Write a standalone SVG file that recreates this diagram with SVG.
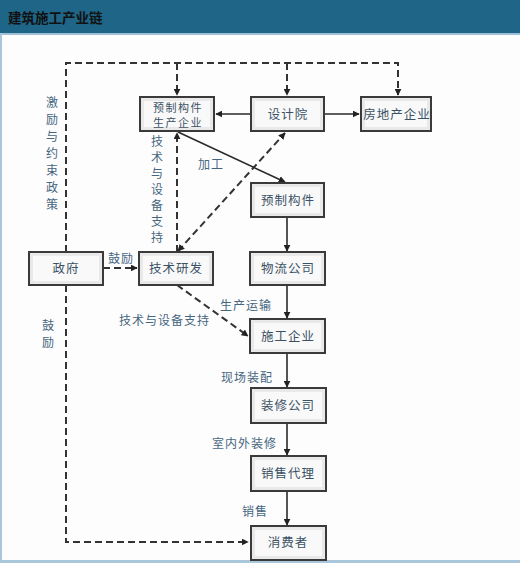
<svg xmlns="http://www.w3.org/2000/svg" width="520" height="563" viewBox="0 0 520 563">
<defs>
<style>
.box{fill:#e9e9e9;stroke:#3a3a3a;stroke-width:2}
.inner{fill:#f9f9f9;stroke:none}
.nt{font-family:"Noto Sans CJK SC","Noto Sans",sans-serif;font-size:12.5px;fill:#3b5266;text-anchor:middle;letter-spacing:1px}
.nt2{font-family:"Noto Sans CJK SC","Noto Sans",sans-serif;font-size:11px;fill:#3b5266;text-anchor:middle;letter-spacing:1.5px}
.lb{font-family:"Noto Sans CJK SC","Noto Sans",sans-serif;font-size:12px;fill:#46667f;letter-spacing:1px}
.vl{font-family:"Noto Sans CJK SC","Noto Sans",sans-serif;font-size:12px;fill:#46667f;text-anchor:middle}
.solid{fill:none;stroke:#2a2a2a;stroke-width:1.6}
.dash{fill:none;stroke:#333;stroke-width:2;stroke-dasharray:7 4}
</style>
<marker id="ah" viewBox="0 0 10 10" refX="9" refY="5" markerWidth="7" markerHeight="7" markerUnits="userSpaceOnUse" orient="auto-start-reverse">
<path d="M0,0 L10,5 L0,10 z" fill="#222"/>
</marker>
</defs>
<rect x="0" y="0" width="520" height="563" fill="#fdfdfd"/>
<rect x="0" y="0" width="520" height="33" fill="#1e6587"/>
<rect x="0" y="33" width="520" height="2" fill="#9fc0d6"/>
<rect x="0" y="33" width="2" height="530" fill="#a9c6da"/>
<rect x="0" y="560" width="520" height="3" fill="#a9c6da"/>
<text x="8" y="23" font-family="Noto Sans CJK SC,sans-serif" font-size="13.5" font-weight="bold" fill="#111">建筑施工产业链</text>

<g id="connectors">
<path class="dash" d="M177,63 V95" marker-end="url(#ah)"/>
<path class="dash" d="M66,252 V63 H398 V95" marker-end="url(#ah)"/>
<path class="dash" d="M287,63 V95" marker-end="url(#ah)"/>
<path class="dash" d="M66,285 V542 H248" marker-end="url(#ah)"/>
<path class="dash" d="M177,252 V133" marker-end="url(#ah)"/>
<path class="dash" d="M178,251 L285,133" marker-start="url(#ah)" marker-end="url(#ah)"/>
<path class="dash" d="M103,268 H137" marker-end="url(#ah)"/>
<path class="dash" d="M177,285 L248,336" marker-end="url(#ah)"/>
<path class="solid" d="M251,114 H216" marker-end="url(#ah)"/>
<path class="solid" d="M324,114 H359" marker-end="url(#ah)"/>
<path class="solid" d="M178,132 L285,182" marker-end="url(#ah)"/>
<path class="solid" d="M287,217 V251" marker-end="url(#ah)"/>
<path class="solid" d="M287,285 V318" marker-end="url(#ah)"/>
<path class="solid" d="M287,353 V387" marker-end="url(#ah)"/>
<path class="solid" d="M287,423 V455" marker-end="url(#ah)"/>
<path class="solid" d="M287,491 V525" marker-end="url(#ah)"/>
<text class="lb" x="198" y="169">加工</text>
<text class="lb" x="108" y="263">鼓励</text>
<text class="lb" x="220" y="310">生产运输</text>
<text class="lb" x="119" y="325">技术与设备支持</text>
<text class="lb" x="221" y="382">现场装配</text>
<text class="lb" x="212" y="448">室内外装修</text>
<text class="lb" x="242" y="516">销售</text>
<g class="vl">
<text x="52" y="107">激</text><text x="52" y="124">励</text><text x="52" y="141">与</text><text x="52" y="158">约</text><text x="52" y="175">束</text><text x="52" y="192">政</text><text x="52" y="209">策</text>
<text x="157" y="146">技</text><text x="157" y="162">术</text><text x="157" y="178">与</text><text x="157" y="194">设</text><text x="157" y="210">备</text><text x="157" y="226">支</text><text x="157" y="242">持</text>
<text x="48" y="330">鼓</text><text x="48" y="347">励</text>
</g>
</g>

<g id="n-yzgjqy"><rect class="box" x="140" y="97" width="74" height="34"/><rect class="inner" x="144" y="101" width="66" height="26"/><text class="nt2" x="178" y="112">预制构件</text><text class="nt2" x="178" y="127">生产企业</text></g>
<g id="n-sjy"><rect class="box" x="251" y="97" width="73" height="34"/><rect class="inner" x="255" y="101" width="65" height="26"/><text class="nt" x="288" y="119">设计院</text></g>
<g id="n-fdc"><rect class="box" x="361" y="97" width="70" height="34"/><rect class="inner" x="365" y="101" width="62" height="26"/><text class="nt" x="397" y="119">房地产企业</text></g>
<g id="n-yzgj"><rect class="box" x="251" y="183" width="73" height="34"/><rect class="inner" x="255" y="187" width="65" height="26"/><text class="nt" x="288" y="205">预制构件</text></g>
<g id="n-zf"><rect class="box" x="29" y="252" width="74" height="33"/><rect class="inner" x="33" y="256" width="66" height="25"/><text class="nt" x="66" y="273">政府</text></g>
<g id="n-jsyf"><rect class="box" x="139" y="252" width="74" height="33"/><rect class="inner" x="143" y="256" width="66" height="25"/><text class="nt" x="176" y="273">技术研发</text></g>
<g id="n-wlgs"><rect class="box" x="250" y="252" width="75" height="33"/><rect class="inner" x="254" y="256" width="67" height="25"/><text class="nt" x="288" y="273">物流公司</text></g>
<g id="n-sgqy"><rect class="box" x="250" y="319" width="75" height="34"/><rect class="inner" x="254" y="323" width="67" height="26"/><text class="nt" x="288" y="341">施工企业</text></g>
<g id="n-zxgs"><rect class="box" x="251" y="388" width="75" height="35"/><rect class="inner" x="255" y="392" width="67" height="27"/><text class="nt" x="288" y="410">装修公司</text></g>
<g id="n-xsdl"><rect class="box" x="251" y="456" width="75" height="35"/><rect class="inner" x="255" y="460" width="67" height="27"/><text class="nt" x="288" y="478">销售代理</text></g>
<g id="n-xfz"><rect class="box" x="251" y="526" width="75" height="34"/><rect class="inner" x="255" y="530" width="67" height="26"/><text class="nt" x="288" y="547">消费者</text></g>
</svg>
